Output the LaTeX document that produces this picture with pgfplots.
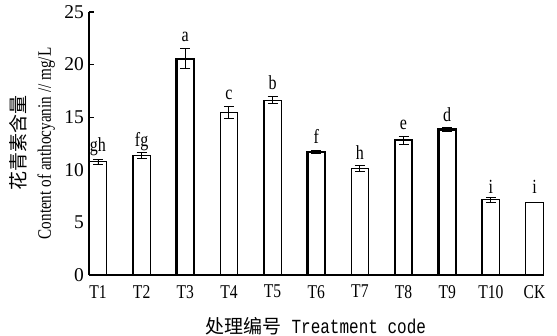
\documentclass[border=0pt]{standalone}
\usepackage{pgfplots}
\pgfplotsset{compat=1.18}
\usepackage{pgfplotstable}
\usepackage{fontspec}
\setmainfont{Liberation Serif}
\newfontfamily\cond[FakeStretch=0.8]{Liberation Serif}
\newfontfamily\monof[FakeStretch=0.8]{Liberation Mono}
\newfontfamily\cjk{Noto Sans CJK SC}

\pgfplotstableread{
x y e
0 10.76 0.25
1 11.37 0.30
3 15.45 0.55
4 16.62 0.33
6 10.13 0.25
9 7.15 0.25
}\thinbars
\pgfplotstableread{
x y e
2 20.54 0.95
5 11.71 0.12
7 12.82 0.38
8 13.83 0.18
}\thickbars
\pgfplotstableread{
x y
10 6.90
}\ckbar
\pgfplotstableread{
x y l
0 11.75 gh
1 12.20 fg
2 22.18 a
3 16.63 c
4 17.59 b
5 12.45 f
6 10.93 h
7 13.78 e
8 14.57 d
9 7.77 i
10 7.77 i
}\letters

\begin{document}
\begin{tikzpicture}
\path[use as bounding box] (0bp,0bp) rectangle (557bp,336bp);
\begin{axis}[
  at={(89bp,61bp)}, anchor=south west,
  scale only axis, width=454bp, height=263bp,
  xmin=-0.206, xmax=10.195, ymin=0, ymax=25,
  axis lines*=left,
  axis line style={line width=1.6bp, black},
  ytick={0,5,...,25},
  xtick={0,...,10},
  xticklabels={T1,T2,T3,T4,T5,T6,T7,T8,T9,T10,CK},
  major tick length=5bp,
  tick align=inside,
  xtick style={draw=none},
  ytick style={line width=1.2bp, black},
  /pgf/number format/assume math mode=true,
  yticklabel style={font=\fontsize{19.5bp}{19bp}\selectfont, inner sep=0pt, xshift=-5bp},
  xticklabel style={font=\cond\fontsize{19.5bp}{19bp}\selectfont, inner sep=0pt, anchor=north, yshift=-10bp},
  every axis y label/.style={at={(axis description cs:-0.1245,0.5)}, rotate=90, anchor=center, align=center, font=\fontsize{19bp}{25bp}\selectfont},
  every axis x label/.style={at={(axis description cs:0.5,-0.194)}, anchor=center, font=\fontsize{19bp}{19bp}\selectfont},
  ylabel={{\cjk 花青素含量}\\{\cond Content of anthocyanin // mg/L}},
  xlabel={{\cjk 处理编号}{\monof\fontsize{20bp}{20bp}\selectfont\ Treatment code}},
  clip=false,
  error bars/error bar style={line width=0.9bp, black},
  error bars/error mark options={rotate=90, mark size=5bp, line width=0.9bp, black},
]
\addplot[ybar, bar width=0.4, bar shift=0pt, draw=black, fill=white, line width=1.3bp,
  error bars/.cd, y dir=both, y explicit]
  table[x=x, y=y, y error=e] {\thinbars};
\addplot[ybar, bar width=0.4, bar shift=0pt, draw=black, fill=white, line width=2.2bp,
  error bars/.cd, y dir=both, y explicit]
  table[x=x, y=y, y error=e] {\thickbars};
\addplot[ybar, bar width=0.4, bar shift=0pt, draw=black, fill=white, line width=1.3bp]
  table[x=x, y=y] {\ckbar};
\addplot[draw=none, no markers, point meta=explicit symbolic,
  nodes near coords={\raisebox{0pt}[\height][0pt]{\pgfplotspointmeta}},
  every node near coord/.append style={font=\cond\fontsize{20bp}{20bp}\selectfont, inner sep=0pt, anchor=south}]
  table[x=x, y=y, meta=l] {\letters};
\end{axis}
\end{tikzpicture}
\end{document}
